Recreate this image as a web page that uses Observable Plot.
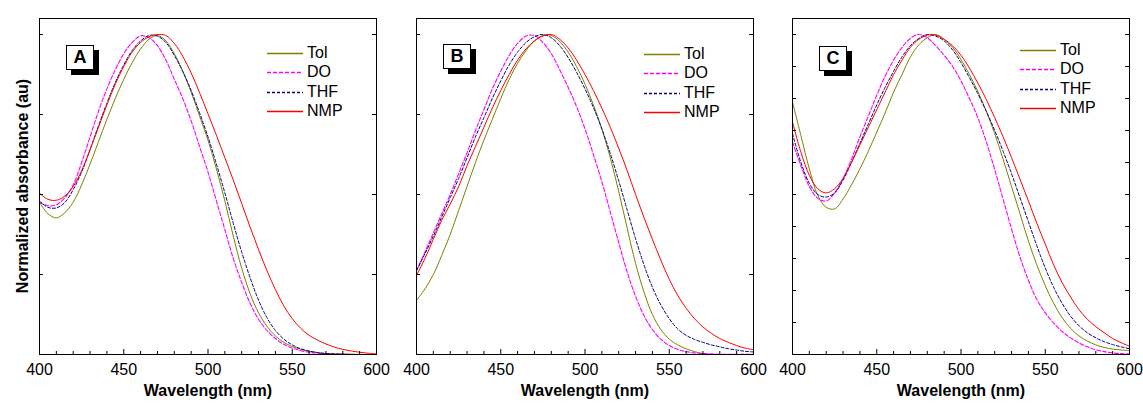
<!DOCTYPE html>
<html>
<head>
<meta charset="utf-8">
<script src="https://cdn.jsdelivr.net/npm/d3@7"></script>
<script src="https://cdn.jsdelivr.net/npm/@observablehq/plot@0.6"></script>
<style>
  html, body { margin: 0; padding: 0; background: #fff; }
  #root { position: relative; width: 1143px; height: 403px; overflow: hidden; font-family: Arial, "Liberation Sans", sans-serif; }
  .panel { position: absolute; top: 0; }
  .panel svg g[aria-label="x-axis label"] text { font-weight: bold; font-size: 16px; }
  .tag { position: absolute; box-sizing: border-box; width: 28px; height: 25px; border: 1px solid #000; background: #fff;
         box-shadow: 5px 5px 0 #000; font: bold 18px Arial, "Liberation Sans", sans-serif; text-align: center; line-height: 23px; }
  .leg { position: absolute; font: 16px Arial, "Liberation Sans", sans-serif; white-space: nowrap; }
  .leg svg { position: absolute; left: 0; top: -1px; overflow: visible; }
  .leg span { position: absolute; left: 40px; top: -9px; line-height: 18px; }
  .ylab { position: absolute; left: 23px; top: 186px; transform: translate(-50%, -50%) rotate(-90deg);
          font: bold 16px Arial, "Liberation Sans", sans-serif; white-space: nowrap; }
</style>
</head>
<body>
<div id="root"></div>
<script>
// ---------- data ----------
const wavelengths = [400,405,410,415,420,425,430,435,440,445,450,455,460,465,470,475,480,485,490,495,500,
                     505,510,515,520,525,530,535,540,545,550,555,560,565,570,575,580,585,590,595,600];

const seriesNames  = ["Tol", "DO", "THF", "NMP"];
const seriesColors = ["#808000", "#ff00ff", "#000080", "#ff0000"];
const seriesDashes = [null, "4,2", "3,2", null];
const seriesWidths = [1, 1.1, 1, 1];

const panelLabels = ["A", "B", "C"];

// Panel A
const A_Tol = [.476,.44,.427,.443,.476,.53,.595,.665,.735,.80,.86,.912,.955,.985,.997,.98,.94,.885,.82,.745,.67,
               .58,.48,.37,.27,.19,.13,.088,.058,.038,.025,.016,.01,.006,.003,.002,.001,.001,0,0,0];
const A_DO  = [.476,.465,.468,.49,.53,.60,.68,.76,.83,.89,.94,.975,.996,.99,.965,.92,.86,.80,.73,.65,.57,
               .48,.39,.30,.225,.16,.11,.075,.05,.032,.02,.012,.007,.004,.002,.001,.001,0,0,0,0];
const A_THF = [.479,.46,.458,.475,.515,.57,.64,.715,.785,.85,.905,.95,.98,.997,.995,.975,.935,.885,.825,.755,.68,
               .595,.505,.41,.32,.24,.17,.115,.075,.048,.03,.018,.011,.006,.003,.002,.001,0,0,0,0];
const A_NMP = [.504,.485,.482,.495,.525,.575,.64,.71,.78,.845,.90,.945,.975,.993,1.0,.997,.972,.932,.88,.818,.752,
               .685,.615,.545,.472,.398,.328,.262,.203,.152,.112,.082,.06,.045,.033,.023,.016,.011,.007,.004,.002];

// Panel B
const B_Tol = [.169,.205,.25,.31,.375,.45,.525,.60,.67,.735,.80,.86,.91,.95,.98,.997,.997,.978,.945,.90,.845,
               .78,.705,.615,.51,.395,.285,.195,.125,.078,.048,.03,.018,.009,.003,0,0,0,0,0,0];
const B_DO  = [.262,.32,.38,.44,.50,.565,.63,.70,.765,.83,.885,.935,.972,.995,.997,.975,.94,.89,.835,.775,.705,
               .625,.54,.445,.35,.258,.182,.122,.078,.048,.028,.016,.009,.005,.003,.002,.001,.001,.001,.001,.001];
const B_THF = [.262,.315,.37,.43,.49,.55,.615,.68,.74,.80,.855,.905,.945,.975,.993,1.0,.99,.965,.928,.882,.83,
               .772,.705,.628,.543,.452,.362,.28,.21,.155,.112,.08,.06,.047,.038,.03,.024,.018,.014,.01,.008];
const B_NMP = [.247,.30,.36,.42,.47,.525,.59,.65,.71,.77,.825,.875,.92,.955,.98,.995,1.0,.985,.958,.92,.875,
               .825,.77,.71,.645,.575,.50,.428,.36,.295,.235,.185,.145,.112,.086,.066,.05,.038,.028,.02,.015];

// Panel C
const C_Tol = [.789,.684,.58,.497,.46,.455,.486,.53,.58,.635,.695,.755,.82,.875,.93,.968,.99,1.0,.985,.96,.922,
               .875,.822,.76,.69,.61,.525,.44,.355,.28,.215,.16,.115,.082,.058,.042,.03,.022,.017,.014,.0125];
const C_DO  = [.664,.59,.525,.488,.48,.505,.55,.61,.68,.745,.81,.87,.92,.96,.988,1.0,.99,.965,.935,.90,.855,
               .80,.74,.665,.578,.485,.392,.305,.232,.172,.13,.098,.072,.052,.036,.024,.015,.009,.005,.003,.002];
const C_THF = [.69,.60,.535,.50,.492,.505,.545,.60,.66,.72,.78,.835,.885,.93,.965,.988,1.0,.995,.98,.952,.912,
               .865,.815,.76,.70,.635,.565,.49,.415,.34,.27,.21,.16,.12,.09,.068,.052,.04,.031,.024,.018];
const C_NMP = [.726,.632,.56,.518,.505,.518,.55,.60,.655,.71,.765,.82,.875,.92,.96,.985,.998,.998,.985,.965,.935,
               .895,.848,.797,.74,.68,.615,.548,.48,.41,.345,.28,.225,.18,.14,.11,.087,.068,.05,.037,.026];

// ticks
const xMajorTicks = [400, 450, 500, 550, 600];
const xMinorTicks = [410, 420, 430, 440, 460, 470, 480, 490, 510, 520, 530, 540, 560, 570, 580, 590];
const yTicksAB = [0.25, 0.5, 0.75, 1];
const yTicksC  = [0.1, 0.2, 0.3, 0.4, 0.5, 0.6, 0.7, 0.8, 0.9, 1];

const panels = [
  {label: panelLabels[0], values: [A_Tol, A_DO, A_THF, A_NMP], yTicks: yTicksAB, left: 0,   legTop: 53, tagTop: 45},
  {label: panelLabels[1], values: [B_Tol, B_DO, B_THF, B_NMP], yTicks: yTicksAB, left: 377, legTop: 54, tagTop: 44},
  {label: panelLabels[2], values: [C_Tol, C_DO, C_THF, C_NMP], yTicks: yTicksC,  left: 753, legTop: 50, tagTop: 46}
];

// ---------- layout ----------
const W = 390, H = 403, mL = 39, mR = 14, mT = 18, mB = 49;
const innerW = W - mL - mR, innerH = H - mT - mB;
const root = document.getElementById("root");

panels.forEach((p) => {
  const lineMarks = seriesNames.map((name, i) => {
    const rows = wavelengths.map((wl, j) => ({wl, v: p.values[i][j]}));
    return Plot.line(rows, {
      x: "wl", y: "v", stroke: seriesColors[i], strokeWidth: seriesWidths[i],
      strokeDasharray: seriesDashes[i], curve: "catmull-rom"
    });
  });

  const chart = Plot.plot({
    width: W, height: H,
    marginLeft: mL, marginRight: mR, marginTop: mT, marginBottom: mB,
    x: {domain: [400, 600]},
    y: {domain: [0, 1.05], axis: null},
    style: {fontFamily: "Arial, 'Liberation Sans', sans-serif", fontSize: "16px", color: "#000", background: "transparent", overflow: "visible"},
    marks: [
      ...lineMarks,
      Plot.tickX(xMinorTicks, {x: d => d, insetTop: innerH - 3, stroke: "#000"}),
      Plot.tickX(xMajorTicks, {x: d => d, insetTop: innerH - 5, stroke: "#000"}),
      Plot.tickY(p.yTicks, {y: d => d, insetRight: innerW - 4, stroke: "#000"}),
      Plot.tickY(p.yTicks, {y: d => d, insetLeft: innerW - 4, stroke: "#000"}),
      Plot.axisX(xMajorTicks, {tickSize: 0, tickPadding: 9, label: "Wavelength (nm)", labelAnchor: "center", labelArrow: "none", labelOffset: 41}),
      Plot.frame({stroke: "#000", strokeWidth: 1})
    ]
  });
  const wrap = document.createElement("div");
  wrap.className = "panel";
  wrap.style.left = p.left + "px";
  wrap.appendChild(chart);
  root.appendChild(wrap);

  // panel tag
  const tag = document.createElement("div");
  tag.className = "tag";
  tag.textContent = p.label;
  tag.style.left = (p.left + mL + 27) + "px";
  tag.style.top = p.tagTop + "px";
  root.appendChild(tag);

  // legend
  seriesNames.forEach((name, i) => {
    const row = document.createElement("div");
    row.className = "leg";
    row.style.left = (p.left + mL + 228) + "px";
    row.style.top = Math.round(p.legTop + i * 19.3) + "px";
    const ns = "http://www.w3.org/2000/svg";
    const s = document.createElementNS(ns, "svg");
    s.setAttribute("width", "36"); s.setAttribute("height", "3");
    const ln = document.createElementNS(ns, "line");
    ln.setAttribute("x1", "0"); ln.setAttribute("x2", "36");
    ln.setAttribute("y1", "1.5"); ln.setAttribute("y2", "1.5");
    ln.setAttribute("stroke", seriesColors[i]);
    ln.setAttribute("stroke-width", "1.6");
    if (seriesDashes[i]) ln.setAttribute("stroke-dasharray", seriesDashes[i]);
    s.appendChild(ln);
    row.appendChild(s);
    const t = document.createElement("span");
    t.textContent = name;
    row.appendChild(t);
    root.appendChild(row);
  });
});

const ylab = document.createElement("div");
ylab.className = "ylab";
ylab.textContent = "Normalized absorbance (au)";
root.appendChild(ylab);
</script>
</body>
</html>
